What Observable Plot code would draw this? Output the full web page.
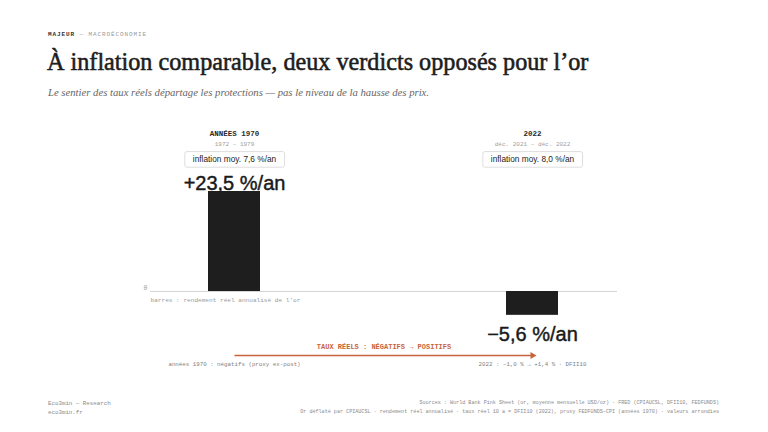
<!DOCTYPE html>
<html lang="fr">
<head>
<meta charset="utf-8">
<script src="https://cdn.jsdelivr.net/npm/d3@7"></script>
<script src="https://cdn.jsdelivr.net/npm/@observablehq/plot@0.6"></script>
<style>
  html, body { margin: 0; padding: 0; background: #fff; }
  #page { position: relative; width: 768px; height: 432px; overflow: hidden; }
  .mono { font-family: "Liberation Mono", "DejaVu Sans Mono", monospace; }
  #kicker { position: absolute; left: 48px; top: 31px; font-size: 6px; letter-spacing: 0.9px; color: #9a9a9a; }
  #kicker b { color: #333; }
  #title { position: absolute; left: 47px; top: 48px; margin: 0; font-family: "Liberation Serif", serif; font-weight: 400; -webkit-text-stroke: 0.55px #1d1d1d; font-size: 24.2px; color: #1d1d1d; white-space: nowrap; }
  #subtitle { position: absolute; left: 48px; top: 86px; margin: 0; font-family: "Liberation Serif", serif; font-style: italic; font-size: 10.7px; color: #666; white-space: nowrap; }
  #chart { position: absolute; left: 0; top: 112px; }
  #footL { position: absolute; left: 48px; top: 399px; font-size: 5.8px; line-height: 9px; color: #8a8a8a; }
  #footR { position: absolute; right: 49px; top: 399px; font-size: 5.1px; line-height: 9px; color: #8a8a8a; text-align: right; }
</style>
</head>
<body>
<div id="page">
  <div id="kicker" class="mono"><b>MAJEUR</b> — MACROÉCONOMIE</div>
  <h1 id="title">À inflation comparable, deux verdicts opposés pour l’or</h1>
  <p id="subtitle">Le sentier des taux réels départage les protections — pas le niveau de la hausse des prix.</p>
  <div id="chart"></div>
  <div id="footL" class="mono">Eco3min — Research<br>eco3min.fr</div>
  <div id="footR" class="mono">Sources : World Bank Pink Sheet (or, moyenne mensuelle USD/oz) · FRED (CPIAUCSL, DFII10, FEDFUNDS)<br>Or déflaté par CPIAUCSL · rendement réel annualisé · taux réel 10 a = DFII10 (2022), proxy FEDFUNDS−CPI (années 1970) · valeurs arrondies</div>
</div>
<script>
// ---- data ----
const periods = ["Années 1970", "2022"];
const headers = ["ANNÉES 1970", "2022"];
const spans = ["1972 – 1979", "déc. 2021 – déc. 2022"];
const inflation = [7.6, 8.0];
const realReturn = [23.5, -5.6];
const rateNotes = ["années 1970 : négatifs (proxy ex-post)", "2022 : −1,0 % → +1,4 % · DFII10"];
const barsNote = "barres : rendement réel annualisé de l’or";
const rateTitle = "TAUX RÉELS : NÉGATIFS → POSITIFS";
const zeroTick = [0];

const frNum = v => Math.abs(v).toFixed(1).replace(".", ",");
const fmtRet = v => (v >= 0 ? "+" : "−") + frNum(v) + " %/an";

const rows = periods.map((p, i) => ({
  period: p, header: headers[i], span: spans[i],
  inflation: inflation[i], ret: realReturn[i], note: rateNotes[i]
}));

const mono = "'Liberation Mono', 'DejaVu Sans Mono', monospace";
const sans = "'Liberation Sans', Arial, sans-serif";
const orange = "#c8643c";

const chart = Plot.plot({
  width: 768,
  height: 270,
  marginTop: 0,
  marginBottom: 0,
  marginLeft: 150,
  marginRight: 151,
  x: { domain: periods, paddingInner: 0.8255, paddingOuter: 0.196, axis: null },
  y: { domain: [-20, 35], range: [179 + 20 * 4.255, 179 - 35 * 4.255], axis: null },
  style: { overflow: "visible" },
  marks: [
    Plot.ruleY(zeroTick, { stroke: "#d4d4d4", strokeWidth: 1 }),
    Plot.text(zeroTick, { y: d => d, frameAnchor: "left", text: d => String(d), textAnchor: "end", dx: -3, dy: -4, fontFamily: mono, fontSize: 6.5, fill: "#999" }),
    Plot.barY(rows, { x: "period", y: "ret", fill: "#1e1e1e" }),
    // headers
    Plot.text(rows, { x: "period", frameAnchor: "top", dy: 18, text: "header", fontFamily: mono, fontWeight: "bold", fontSize: 7.5, letterSpacing: "0.7px", fill: "#2a2a2a" }),
    Plot.text(rows, { x: "period", frameAnchor: "top", dy: 29, text: "span", fontFamily: mono, fontSize: 6, fill: "#a0a0a0" }),
    Plot.text(rows, { x: "period", frameAnchor: "top", dy: 44, text: d => `inflation moy. ${frNum(d.inflation)} %/an`, fontFamily: sans, fontSize: 8.3, fill: "#222", className: "infl" }),
    // value labels
    Plot.text(rows.filter(d => d.ret >= 0), { x: "period", y: "ret", text: d => fmtRet(d.ret), lineAnchor: "bottom", dy: -1.5, fontFamily: sans, fontSize: 20, fill: "#1a1a1a", stroke: "#1a1a1a", strokeWidth: 0.45 }),
    Plot.text(rows.filter(d => d.ret < 0), { x: "period", y: "ret", text: d => fmtRet(d.ret), lineAnchor: "top", dy: 11, fontFamily: sans, fontSize: 20, fill: "#1a1a1a", stroke: "#1a1a1a", strokeWidth: 0.45 }),
    // note under zero
    Plot.text([barsNote], { y: () => 0, frameAnchor: "left", text: d => d, textAnchor: "start", dy: 9, fontFamily: mono, fontSize: 6.1, fill: "#9a9a9a" }),
    // rate path
    Plot.text([rateTitle], { frameAnchor: "bottom", text: d => d, dy: -34, fontFamily: mono, fontWeight: "bold", fontSize: 7, letterSpacing: "0.8px", fill: orange }),
    Plot.link([{ a: periods[0], b: periods[1] }], { x1: "a", x2: "b", y1: () => 0, y2: () => 0, dy: 64, stroke: orange, strokeWidth: 1.3 }),
    Plot.dot([periods[1]], { x: d => d, y: () => 0, dy: 64, symbol: "triangle", rotate: 90, r: 2.6, fill: orange, stroke: "none" }),
    Plot.text(rows, { x: "period", frameAnchor: "bottom", dy: -17, text: "note", fontFamily: mono, fontSize: 5.8, fill: "#808080" })
  ]
});

document.getElementById("chart").appendChild(chart);

// boxes behind inflation labels
d3.select(chart).selectAll("g.infl text").each(function() {
  const bb = this.getBBox();
  const padX = 8, padY = 2.8;
  const t = this.getAttribute("transform");
  d3.select(this.parentNode).insert("rect", () => this)
    .attr("x", bb.x - padX).attr("y", bb.y - padY)
    .attr("width", bb.width + 2 * padX).attr("height", bb.height + 2 * padY)
    .attr("rx", 2).attr("fill", "#fff").attr("stroke", "#d6d6d6").attr("stroke-width", 0.8)
    .attr("transform", t);
});
</script>
</body>
</html>
